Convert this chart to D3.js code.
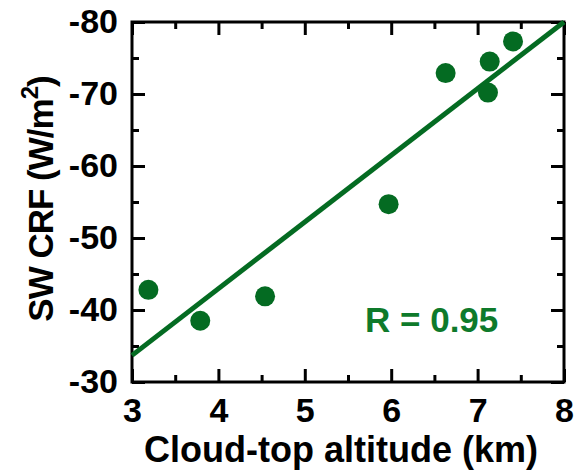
<!DOCTYPE html>
<html>
<head>
<meta charset="utf-8">
<script src="https://cdn.jsdelivr.net/npm/d3@7"></script>
<style>
  html, body { margin: 0; padding: 0; background: #fff; }
  svg { display: block; font-family: "Liberation Sans", Arial, Helvetica, sans-serif; font-weight: bold; }
</style>
</head>
<body>
<svg id="chart" width="581" height="474"></svg>
<script>
// Cloud-top altitude (km) vs. shortwave cloud radiative forcing (W/m^2)
const altitude = [3.19, 3.79, 4.54, 5.97, 6.63, 7.14, 7.12, 7.41];
const swCRF    = [-42.8, -38.5, -41.9, -54.7, -72.9, -74.5, -70.2, -77.3];

// Linear fit endpoints
const fitX = [3, 8];
const fitY = [-33.7, -80];
const fitLabel = "R = 0.95";

const xMajor = [3, 4, 5, 6, 7, 8];
const xMinor = [3.5, 4.5, 5.5, 6.5, 7.5];
const yMajor = [-30, -40, -50, -60, -70, -80];
const yMinor = [-35, -45, -55, -65, -75];

const green = "#046b22";
const textGreen = "#0e7a2b";

const plot = { left: 132, right: 564, top: 22, bottom: 382 };

const svg = d3.select("#chart");

const x = d3.scaleLinear().domain([3, 8]).range([plot.left, plot.right]);
const y = d3.scaleLinear().domain([-30, -80]).range([plot.bottom, plot.top]);

// plain hyphen for negative numbers
const fmt = d => String(d);

function styleAxis(g) {
  g.select(".domain").remove();
  g.selectAll(".tick line").attr("stroke", "#000").attr("stroke-width", 3);
  g.selectAll(".tick text").attr("fill", "#000").style("font-size", "34px")
    .style("font-family", '"Liberation Sans", Arial, sans-serif').style("font-weight", "bold");
}

// Major ticks with labels (bottom / left)
svg.append("g").attr("transform", `translate(0,${plot.bottom})`)
  .call(d3.axisBottom(x).tickValues(xMajor).tickFormat(fmt).tickSizeInner(-13).tickSizeOuter(0).tickPadding(16))
  .call(styleAxis);
svg.append("g").attr("transform", `translate(${plot.left},0)`)
  .call(d3.axisLeft(y).tickValues(yMajor).tickFormat(fmt).tickSizeInner(-13).tickSizeOuter(0).tickPadding(14))
  .call(styleAxis);

// Minor ticks (bottom / left)
svg.append("g").attr("transform", `translate(0,${plot.bottom})`)
  .call(d3.axisBottom(x).tickValues(xMinor).tickFormat("").tickSizeInner(-7).tickSizeOuter(0))
  .call(styleAxis);
svg.append("g").attr("transform", `translate(${plot.left},0)`)
  .call(d3.axisLeft(y).tickValues(yMinor).tickFormat("").tickSizeInner(-7).tickSizeOuter(0))
  .call(styleAxis);

// Mirrored ticks (top / right)
svg.append("g").attr("transform", `translate(0,${plot.top})`)
  .call(d3.axisTop(x).tickValues(xMajor).tickFormat("").tickSizeInner(-13).tickSizeOuter(0))
  .call(styleAxis);
svg.append("g").attr("transform", `translate(0,${plot.top})`)
  .call(d3.axisTop(x).tickValues(xMinor).tickFormat("").tickSizeInner(-7).tickSizeOuter(0))
  .call(styleAxis);
svg.append("g").attr("transform", `translate(${plot.right},0)`)
  .call(d3.axisRight(y).tickValues(yMajor).tickFormat("").tickSizeInner(-13).tickSizeOuter(0))
  .call(styleAxis);
svg.append("g").attr("transform", `translate(${plot.right},0)`)
  .call(d3.axisRight(y).tickValues(yMinor).tickFormat("").tickSizeInner(-7).tickSizeOuter(0))
  .call(styleAxis);

// Plot frame
svg.append("rect")
  .attr("x", plot.left).attr("y", plot.top)
  .attr("width", plot.right - plot.left).attr("height", plot.bottom - plot.top)
  .attr("fill", "none").attr("stroke", "#000").attr("stroke-width", 3);

// Fit line
const fitPts = fitX.map((d, i) => [d, fitY[i]]);
svg.append("path")
  .datum(fitPts)
  .attr("d", d3.line().x(d => x(d[0])).y(d => y(d[1])))
  .attr("fill", "none").attr("stroke", green).attr("stroke-width", 5);

// Data points
svg.append("g").selectAll("circle")
  .data(altitude.map((d, i) => [d, swCRF[i]]))
  .join("circle")
  .attr("cx", d => x(d[0])).attr("cy", d => y(d[1]))
  .attr("r", 10).attr("fill", green);

// Correlation label
svg.append("text")
  .attr("x", 365).attr("y", 332)
  .attr("fill", textGreen).style("font-size", "35px")
  .text(fitLabel);

// Axis titles
svg.append("text")
  .attr("x", 341).attr("y", 462)
  .attr("text-anchor", "middle").style("font-size", "36px").attr("fill", "#000")
  .text("Cloud-top altitude (km)");

const yTitle = svg.append("text")
  .attr("transform", "translate(53,199) rotate(-90)")
  .attr("text-anchor", "middle").style("font-size", "35px")
  .style("letter-spacing", "-1px").attr("fill", "#000");
yTitle.append("tspan").text("SW CRF (W/m");
yTitle.append("tspan").attr("dy", -15).style("font-size", "24px").text("2");
yTitle.append("tspan").attr("dy", 15).text(")");
</script>
</body>
</html>
